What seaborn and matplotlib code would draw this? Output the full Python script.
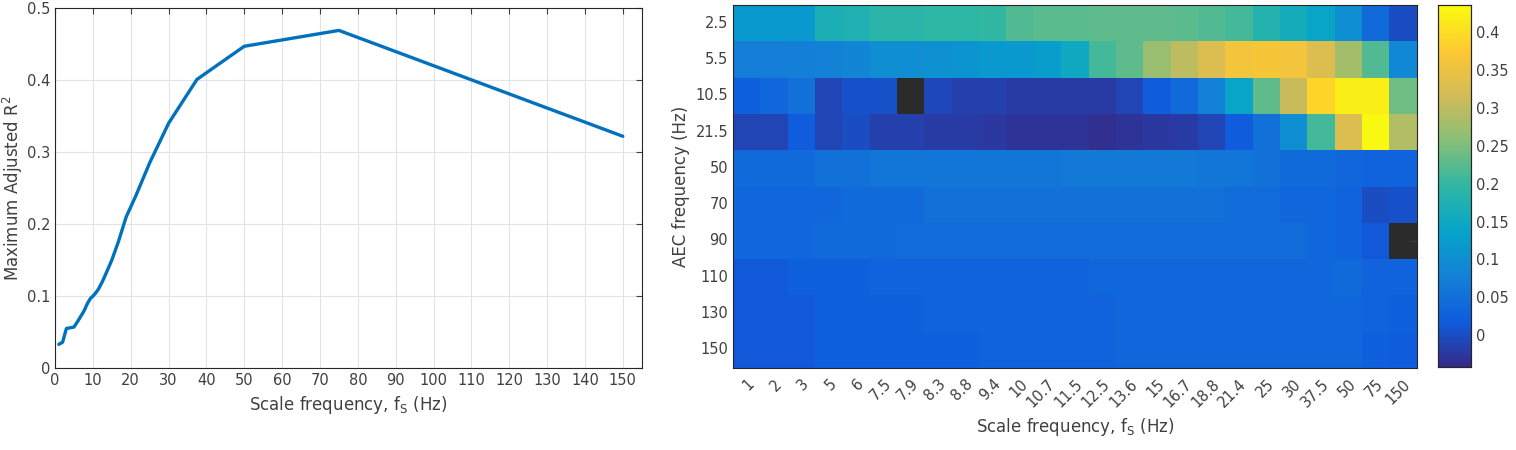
import matplotlib
matplotlib.use('Agg')
import matplotlib.pyplot as plt
import seaborn as sns
import numpy as np
import pandas as pd
from matplotlib.colors import LinearSegmentedColormap

# scale frequencies (Hz) and AEC frequencies (Hz)
scale_freq = [1, 2, 3, 5, 6, 7.5, 7.9, 8.3, 8.8, 9.4, 10, 10.7, 11.5, 12.5,
              13.6, 15, 16.7, 18.8, 21.4, 25, 30, 37.5, 50, 75, 150]
scale_labels = ['1', '2', '3', '5', '6', '7.5', '7.9', '8.3', '8.8', '9.4', '10',
                '10.7', '11.5', '12.5', '13.6', '15', '16.7', '18.8', '21.4',
                '25', '30', '37.5', '50', '75', '150']
aec_labels = ['2.5', '5.5', '10.5', '21.5', '50', '70', '90', '110', '130', '150']

# maximum adjusted R^2 per scale frequency (left panel)
max_r2 = [0.033, 0.036, 0.055, 0.057, 0.065, 0.078, 0.082, 0.087, 0.092, 0.097,
          0.100, 0.104, 0.110, 0.120, 0.133, 0.150, 0.175, 0.210, 0.240, 0.285,
          0.340, 0.401, 0.447, 0.469, 0.322]

# adjusted R^2 per AEC frequency (rows) x scale frequency (cols), nan = missing
r_2_5 = [0.12, 0.12, 0.12, 0.17, 0.175, 0.19, 0.19, 0.195, 0.195, 0.20, 0.22, 0.225, 0.225,
         0.23, 0.23, 0.23, 0.225, 0.22, 0.21, 0.18, 0.16, 0.14, 0.10, 0.04, 0.0]
r_5_5 = [0.07, 0.07, 0.075, 0.08, 0.085, 0.10, 0.10, 0.105, 0.11, 0.12, 0.12, 0.125, 0.15,
         0.21, 0.23, 0.27, 0.30, 0.33, 0.36, 0.365, 0.36, 0.33, 0.28, 0.22, 0.09]
r_10_5 = [0.025, 0.035, 0.05, -0.01, 0.005, 0.005, np.nan, -0.005, -0.015, -0.015, -0.02, -0.02, -0.02,
          -0.02, -0.01, 0.02, 0.04, 0.08, 0.14, 0.23, 0.31, 0.39, 0.42, 0.42, 0.24]
r_21_5 = [-0.01, -0.01, 0.02, -0.01, 0.0, -0.015, -0.015, -0.02, -0.02, -0.025, -0.03, -0.03, -0.03,
          -0.035, -0.03, -0.025, -0.02, -0.01, 0.02, 0.05, 0.10, 0.21, 0.33, 0.43, 0.29]
r_50 = [0.04, 0.04, 0.04, 0.05, 0.05, 0.06, 0.06, 0.06, 0.06, 0.06, 0.06, 0.06, 0.065,
        0.065, 0.065, 0.065, 0.065, 0.06, 0.06, 0.05, 0.04, 0.04, 0.035, 0.03, 0.03]
r_70 = [0.035, 0.035, 0.035, 0.035, 0.04, 0.04, 0.04, 0.05, 0.05, 0.05, 0.05, 0.05, 0.05,
        0.05, 0.05, 0.05, 0.05, 0.05, 0.045, 0.045, 0.035, 0.035, 0.03, 0.0, 0.005]
r_90 = [0.035, 0.035, 0.035, 0.04, 0.04, 0.04, 0.045, 0.045, 0.045, 0.045, 0.045, 0.045, 0.045,
        0.045, 0.045, 0.045, 0.045, 0.045, 0.045, 0.045, 0.045, 0.035, 0.03, 0.015, np.nan]
r_110 = [0.015, 0.015, 0.025, 0.025, 0.025, 0.03, 0.03, 0.03, 0.03, 0.03, 0.03, 0.03, 0.03,
         0.035, 0.035, 0.035, 0.035, 0.035, 0.035, 0.035, 0.035, 0.035, 0.04, 0.03, 0.03]
r_130 = [0.015, 0.015, 0.015, 0.025, 0.025, 0.025, 0.025, 0.03, 0.03, 0.03, 0.03, 0.03, 0.03,
         0.03, 0.035, 0.035, 0.035, 0.035, 0.035, 0.035, 0.035, 0.035, 0.035, 0.03, 0.025]
r_150 = [0.015, 0.015, 0.015, 0.025, 0.025, 0.025, 0.025, 0.025, 0.025, 0.03, 0.03, 0.03, 0.03,
         0.03, 0.035, 0.035, 0.035, 0.035, 0.035, 0.035, 0.035, 0.035, 0.035, 0.025, 0.02]

grid = pd.DataFrame([r_2_5, r_5_5, r_10_5, r_21_5, r_50, r_70, r_90, r_110, r_130, r_150],
                    index=aec_labels, columns=scale_labels)

# parula-like colormap
parula = LinearSegmentedColormap.from_list(
    'parula', ['#352a87', '#0f5cdd', '#1481d6', '#06a4ca', '#2eb7a4',
               '#87bf77', '#d1bb59', '#fec832', '#f9fb0e'])

sns.set_style('white')
plt.rcParams['font.family'] = ['DejaVu Sans']
txt = '#404040'

fig = plt.figure(figsize=(15.16, 4.5), dpi=100)
ax1 = fig.add_axes([0.0363, 0.182, 0.387, 0.80])
ax2 = fig.add_axes([0.4835, 0.182, 0.451, 0.807])
cax = fig.add_axes([0.9485, 0.184, 0.0218, 0.804])

# left: line plot
sns.lineplot(x=scale_freq, y=max_r2, ax=ax1, color='#0072BD', linewidth=2.4)
ax1.set_xlim(0, 155)
ax1.set_ylim(0, 0.5)
ax1.set_xticks(np.arange(0, 151, 10))
ax1.set_yticks(np.arange(0, 0.51, 0.1))
ax1.set_yticklabels(['0', '0.1', '0.2', '0.3', '0.4', '0.5'])
ax1.grid(True, color='#e3e3e3', linewidth=0.8)
ax1.tick_params(direction='in', length=4, colors=txt, labelsize=10.5,
                top=True, right=True)
for s in ax1.spines.values():
    s.set_color('#262626')
    s.set_linewidth(0.8)
ax1.set_xlabel(r'Scale frequency, f$_\mathregular{S}$ (Hz)', fontsize=12, color=txt)
ax1.set_ylabel(r'Maximum Adjusted R$^\mathregular{2}$', fontsize=12, color=txt)
ax1.yaxis.set_label_coords(-0.052, 0.5)

# right: heatmap
ax2.set_facecolor('#2b2b2b')
sns.heatmap(grid, ax=ax2, cmap=parula, vmin=-0.042, vmax=0.435, cbar_ax=cax,
            cbar_kws={'ticks': [0, 0.05, 0.1, 0.15, 0.2, 0.25, 0.3, 0.35, 0.4]})
ax2.set_xticklabels(scale_labels, rotation=45, ha='right', rotation_mode='anchor')
ax2.set_yticklabels(aec_labels, rotation=0)
ax2.tick_params(direction='in', length=4, colors=txt, labelsize=10.5,
                top=True, right=True)
ax2.tick_params(axis='x', pad=6)
for s in ax2.spines.values():
    s.set_visible(True)
    s.set_color('#262626')
    s.set_linewidth(0.8)
ax2.set_xlabel(r'Scale frequency, f$_\mathregular{S}$ (Hz)', fontsize=12, color=txt)
ax2.set_ylabel('AEC frequency (Hz)', fontsize=12, color=txt)

cax.set_yticklabels(['0', '0.05', '0.1', '0.15', '0.2', '0.25', '0.3', '0.35', '0.4'])
cax.tick_params(direction='in', length=4, colors=txt, labelsize=10.5)
for s in cax.spines.values():
    s.set_visible(True)
    s.set_color('#262626')
    s.set_linewidth(0.8)

fig.savefig('out.png', dpi=100)
